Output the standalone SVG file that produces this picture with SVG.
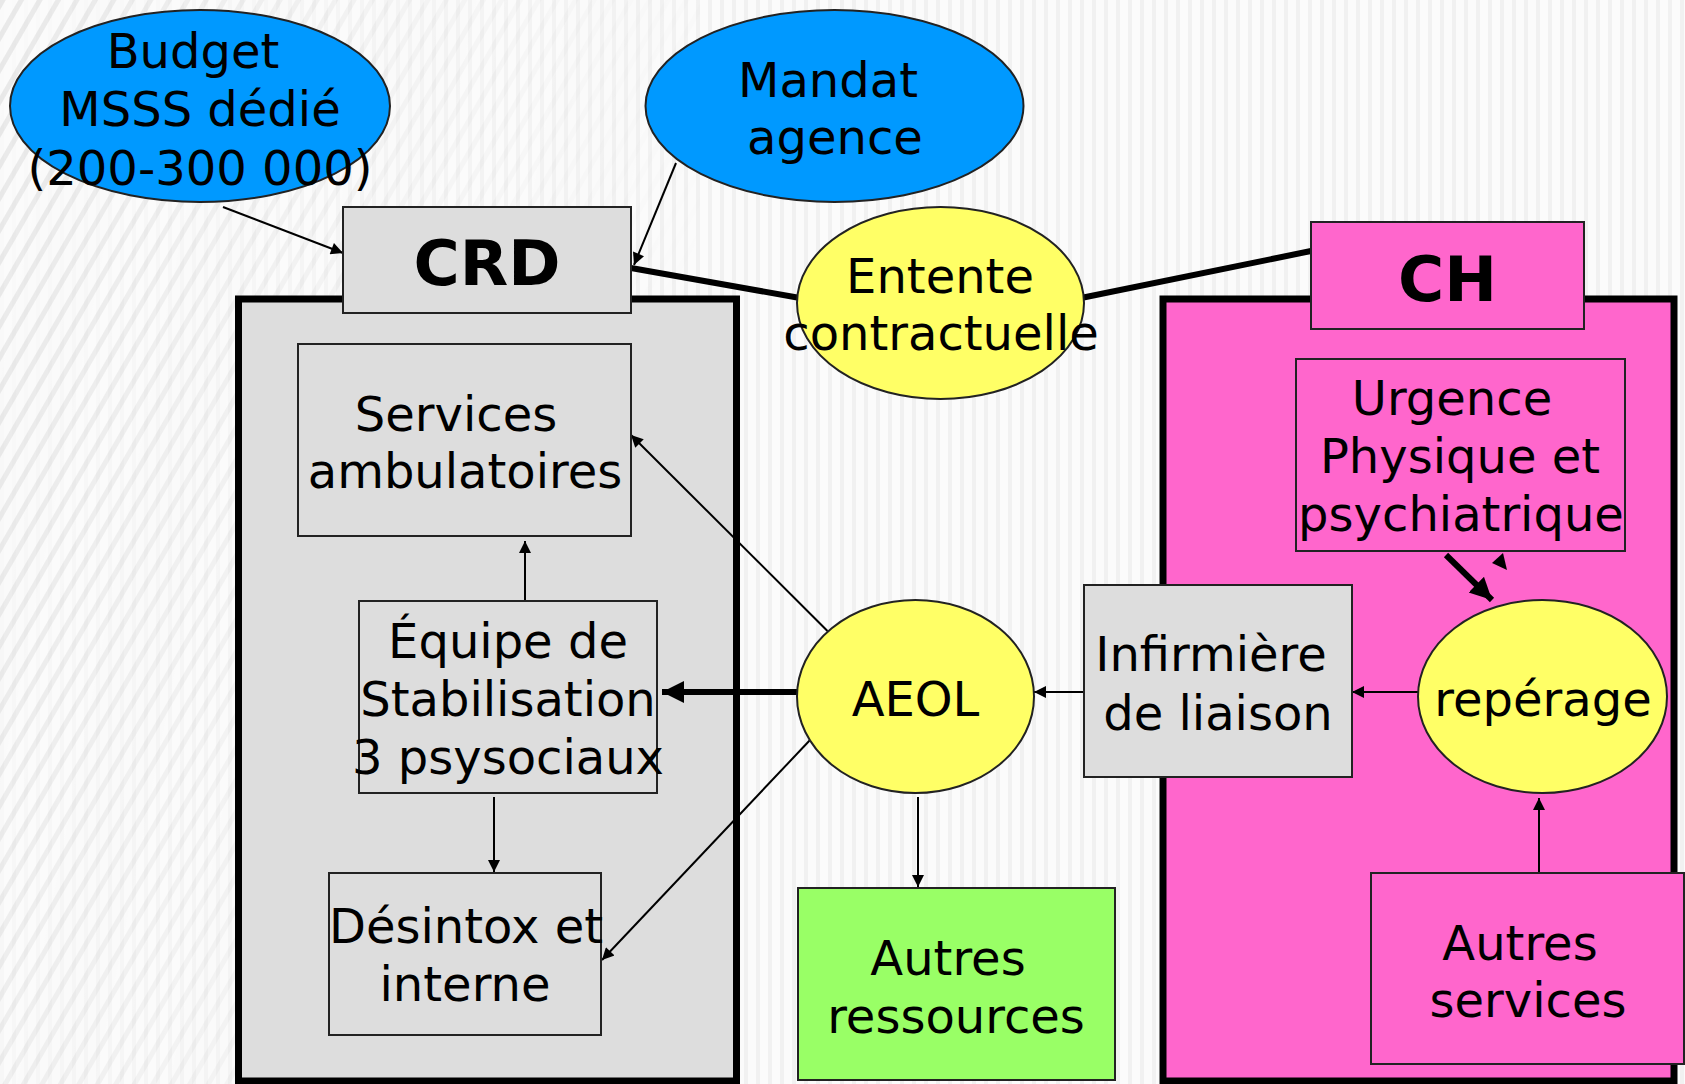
<svg xmlns="http://www.w3.org/2000/svg" width="1685" height="1084" viewBox="0 0 1685 1084">
<style>
  text { font-family: "DejaVu Sans", Verdana, sans-serif; font-size: 48px; fill: #000; text-anchor: middle; }
  .title { font-weight: bold; font-size: 63px; }
  .box { stroke: #222; stroke-width: 2; }
  .gray { fill: #dddddd; }
  .pink { fill: #ff66cc; }
  .blue { fill: #0099ff; }
  .yellow { fill: #ffff66; }
  .green { fill: #99ff66; }
  .container { stroke: #000; stroke-width: 7; }
  .thin { stroke: #000; stroke-width: 2; fill: none; }
  .thick { stroke: #000; stroke-width: 6; fill: none; }
</style>
<defs>
  <pattern id="diag" width="16" height="16" patternUnits="userSpaceOnUse" patternTransform="rotate(30)">
    <rect width="16" height="16" fill="#fafafa"/>
    <rect width="5" height="16" fill="#e6e6e6"/>
  </pattern>
  <pattern id="vert" width="12" height="12" patternUnits="userSpaceOnUse">
    <rect width="12" height="12" fill="#fbfbfb"/>
    <rect width="4" height="12" fill="#f1f1f1"/>
  </pattern>
  <linearGradient id="fadeL" x1="0" y1="0" x2="1" y2="0.3">
    <stop offset="0" stop-color="#fff" stop-opacity="0.9"/>
    <stop offset="0.5" stop-color="#fff" stop-opacity="0.4"/>
    <stop offset="1" stop-color="#fff" stop-opacity="0"/>
  </linearGradient>
  <mask id="maskL"><rect x="0" y="0" width="700" height="1084" fill="url(#fadeL)"/></mask>
  <marker id="ah" viewBox="0 0 10 10" refX="10" refY="5" markerWidth="14" markerHeight="12" markerUnits="userSpaceOnUse" orient="auto">
    <path d="M0,0 L10,5 L0,10 z" fill="#000"/>
  </marker>
  <marker id="ahBig" viewBox="0 0 10 10" refX="10" refY="5" markerWidth="22" markerHeight="24" markerUnits="userSpaceOnUse" orient="auto">
    <path d="M0,0 L10,5 L0,10 z" fill="#000"/>
  </marker>
</defs>

<g id="background">
  <rect x="0" y="0" width="1685" height="1084" fill="url(#vert)"/>
  <rect x="0" y="0" width="700" height="1084" fill="url(#diag)" mask="url(#maskL)"/>
</g>

<g id="crd-container">
  <rect class="container gray" x="238.5" y="299" width="498" height="782"/>
</g>
<g id="ch-container">
  <rect class="container pink" x="1163" y="299" width="511" height="782"/>
</g>

<g id="connectors">
  <line class="thin" x1="223" y1="207" x2="343" y2="253" marker-end="url(#ah)"/>
  <line class="thin" x1="676" y1="163" x2="634" y2="265" marker-end="url(#ah)"/>
  <line class="thick" x1="631" y1="268" x2="800" y2="298"/>
  <line class="thick" x1="1081" y1="298" x2="1311" y2="251"/>
  <line class="thin" x1="525" y1="600" x2="525" y2="541" marker-end="url(#ah)"/>
  <line class="thin" x1="494" y1="797" x2="494" y2="872" marker-end="url(#ah)"/>
  <line class="thin" x1="827.5" y1="631" x2="631" y2="435" marker-end="url(#ah)"/>
  <line class="thick" x1="797" y1="692" x2="662" y2="692" marker-end="url(#ahBig)"/>
  <line class="thin" x1="811" y1="739" x2="602" y2="960" marker-end="url(#ah)"/>
  <line class="thin" x1="1084" y1="692" x2="1034" y2="692" marker-end="url(#ah)"/>
  <line class="thin" x1="1418" y1="692" x2="1352" y2="692" marker-end="url(#ah)"/>
  <line class="thin" x1="918" y1="797" x2="918" y2="887" marker-end="url(#ah)"/>
  <line class="thin" x1="1539" y1="873" x2="1539" y2="798" marker-end="url(#ah)"/>
  <line class="thick" x1="1446" y1="555" x2="1492" y2="600" marker-end="url(#ahBig)"/>
  <polygon points="1492,563 1503,553 1507,570" fill="#000"/>
</g>

<g id="budget">
  <ellipse class="box blue" cx="200" cy="106" rx="190" ry="96"/>
  <text x="193" y="68">Budget</text>
  <text x="200" y="126">MSSS dédié</text>
  <text x="200" y="185">(200-300 000)</text>
</g>

<g id="mandat">
  <ellipse class="box blue" cx="834.5" cy="106" rx="189" ry="96"/>
  <text x="828" y="97">Mandat</text>
  <text x="835" y="154">agence</text>
</g>

<g id="entente">
  <ellipse class="box yellow" cx="940.5" cy="303" rx="143.5" ry="96"/>
  <text x="940" y="293">Entente</text>
  <text x="941" y="350">contractuelle</text>
</g>

<g id="crd">
  <rect class="box gray" x="343" y="207" width="288" height="106"/>
  <text class="title" x="487" y="285">CRD</text>
</g>

<g id="ch">
  <rect class="box pink" x="1311" y="222" width="273" height="107"/>
  <text class="title" x="1447.5" y="301">CH</text>
</g>

<g id="services">
  <rect class="box gray" x="298" y="344" width="333" height="192"/>
  <text x="456" y="431">Services</text>
  <text x="465" y="488">ambulatoires</text>
</g>

<g id="equipe">
  <rect class="box gray" x="359" y="601" width="298" height="192"/>
  <text x="508" y="658">Équipe de</text>
  <text x="508" y="716">Stabilisation</text>
  <text x="508" y="774">3 psysociaux</text>
</g>

<g id="desintox">
  <rect class="box gray" x="329" y="873" width="272" height="162"/>
  <text x="466" y="943">Désintox et</text>
  <text x="465" y="1001">interne</text>
</g>

<g id="aeol">
  <ellipse class="box yellow" cx="915.5" cy="696.5" rx="118.5" ry="96.5"/>
  <text x="915.5" y="716">AEOL</text>
</g>

<g id="infirmiere">
  <rect class="box gray" x="1084" y="585" width="268" height="192"/>
  <text x="1211" y="671">Infirmière</text>
  <text x="1218" y="730">de liaison</text>
</g>

<g id="urgence">
  <rect class="box pink" x="1296" y="359" width="329" height="192"/>
  <text x="1452" y="415">Urgence</text>
  <text x="1460" y="473">Physique et</text>
  <text x="1461" y="531">psychiatrique</text>
</g>

<g id="reperage">
  <ellipse class="box yellow" cx="1542.5" cy="696.5" rx="124.5" ry="96.5"/>
  <text x="1543" y="716">repérage</text>
</g>

<g id="autres-ressources">
  <rect class="box green" x="798" y="888" width="317" height="192"/>
  <text x="948" y="975">Autres</text>
  <text x="956" y="1033">ressources</text>
</g>

<g id="autres-services">
  <rect class="box pink" x="1371" y="873" width="313" height="191"/>
  <text x="1520" y="960">Autres</text>
  <text x="1528" y="1017">services</text>
</g>
</svg>
